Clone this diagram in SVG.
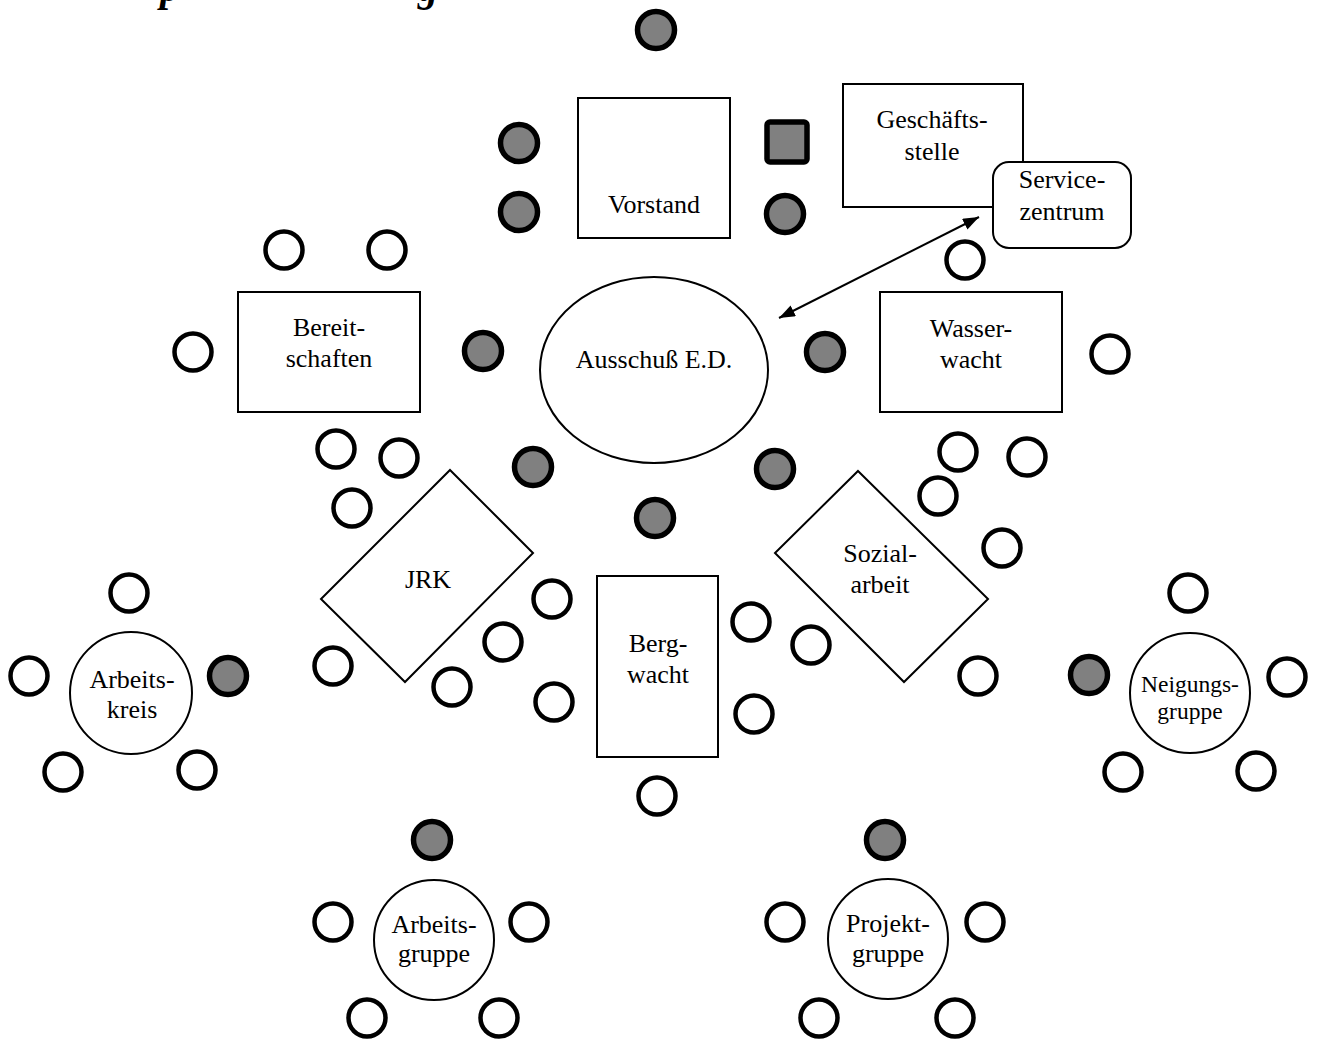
<svg xmlns="http://www.w3.org/2000/svg" width="1318" height="1041" viewBox="0 0 1318 1041">
<style>
text{font-family:"Liberation Serif","Times New Roman",serif;font-size:26px;fill:#000;text-anchor:middle}
.sm{font-size:23.5px}
.ttl{font-weight:bold;font-style:italic;font-size:40px;text-anchor:start}
.box{fill:#fff;stroke:#000;stroke-width:2}
.w{fill:#fff;stroke:#000;stroke-width:4.5}
.g{fill:#808080;stroke:#000;stroke-width:5.5}
.con{stroke:#000;stroke-width:2;fill:none}
</style>
<defs>
<marker id="ah" viewBox="0 0 16 12" refX="16" refY="6" markerWidth="16" markerHeight="12" markerUnits="userSpaceOnUse" orient="auto-start-reverse">
<path d="M0,0 L16,6 L0,12 z" fill="#000"/>
</marker>
</defs>
<rect width="1318" height="1041" fill="#fff"/>
<g id="title"><text class="ttl" x="160" y="1">p</text><text class="ttl" x="418" y="1">g</text></g>

<g id="connectors">
<line class="con" x1="979" y1="217" x2="779" y2="318" marker-start="url(#ah)" marker-end="url(#ah)"/>
</g>

<g id="vorstand"><rect class="box" x="578" y="98" width="152" height="140"/><text x="654" y="213">Vorstand</text></g>
<g id="geschaeftsstelle"><rect class="box" x="843" y="84" width="180" height="123"/><text x="932" y="128">Geschäfts-</text><text x="932" y="160">stelle</text></g>
<g id="servicezentrum"><rect class="box" x="993" y="162" width="138" height="86" rx="16"/><text x="1062" y="188">Service-</text><text x="1062" y="220">zentrum</text></g>
<g id="ausschuss"><ellipse class="box" cx="654" cy="370" rx="114" ry="93"/><text x="654" y="368">Ausschuß E.D.</text></g>
<g id="bereitschaften"><rect class="box" x="238" y="292" width="182" height="120"/><text x="329" y="336">Bereit-</text><text x="329" y="367">schaften</text></g>
<g id="wasserwacht"><rect class="box" x="880" y="292" width="182" height="120"/><text x="971" y="337">Wasser-</text><text x="971" y="368">wacht</text></g>
<g id="jrk"><polygon class="box" points="450,470 533,553 405,682 321,599"/><text x="428" y="588">JRK</text></g>
<g id="bergwacht"><rect class="box" x="597" y="576" width="121" height="181"/><text x="658" y="652">Berg-</text><text x="658" y="683">wacht</text></g>
<g id="sozialarbeit"><polygon class="box" points="858,471 988,599 904,682 775,553"/><text x="880" y="562">Sozial-</text><text x="880" y="593">arbeit</text></g>
<g id="arbeitskreis"><circle class="box" cx="131" cy="693" r="61"/><text x="132" y="688">Arbeits-</text><text x="132" y="718">kreis</text></g>
<g id="neigungsgruppe"><circle class="box" cx="1190" cy="693" r="60"/><text class="sm" x="1190" y="692">Neigungs-</text><text class="sm" x="1190" y="719">gruppe</text></g>
<g id="arbeitsgruppe"><circle class="box" cx="434" cy="940" r="60"/><text x="434" y="933">Arbeits-</text><text x="434" y="962">gruppe</text></g>
<g id="projektgruppe"><circle class="box" cx="888" cy="939" r="60"/><text x="888" y="932">Projekt-</text><text x="888" y="962">gruppe</text></g>

<g id="seats-gray">
<circle class="g" cx="656" cy="30" r="18.5"/>
<circle class="g" cx="519" cy="143" r="18.5"/>
<circle class="g" cx="519" cy="212" r="18.5"/>
<rect class="g" x="767" y="122" width="40" height="40" rx="3"/>
<circle class="g" cx="785" cy="214" r="18.5"/>
<circle class="g" cx="483" cy="351" r="18.5"/>
<circle class="g" cx="825" cy="352" r="18.5"/>
<circle class="g" cx="533" cy="467" r="18.5"/>
<circle class="g" cx="775" cy="469" r="18.5"/>
<circle class="g" cx="655" cy="518" r="18.5"/>
<circle class="g" cx="228" cy="676" r="18.5"/>
<circle class="g" cx="1089" cy="675" r="18.5"/>
<circle class="g" cx="432" cy="840" r="18.5"/>
<circle class="g" cx="885" cy="840" r="18.5"/>
</g>

<g id="seats-white">
<circle class="w" cx="965" cy="260" r="18.5"/>
<circle class="w" cx="284" cy="250" r="18.5"/>
<circle class="w" cx="387" cy="250" r="18.5"/>
<circle class="w" cx="193" cy="352" r="18.5"/>
<circle class="w" cx="1110" cy="354" r="18.5"/>
<circle class="w" cx="336" cy="449" r="18.5"/>
<circle class="w" cx="399" cy="458" r="18.5"/>
<circle class="w" cx="352" cy="508" r="18.5"/>
<circle class="w" cx="552" cy="599" r="18.5"/>
<circle class="w" cx="503" cy="642" r="18.5"/>
<circle class="w" cx="452" cy="687" r="18.5"/>
<circle class="w" cx="333" cy="666" r="18.5"/>
<circle class="w" cx="554" cy="702" r="18.5"/>
<circle class="w" cx="751" cy="622" r="18.5"/>
<circle class="w" cx="754" cy="714" r="18.5"/>
<circle class="w" cx="657" cy="796" r="18.5"/>
<circle class="w" cx="958" cy="452" r="18.5"/>
<circle class="w" cx="1027" cy="457" r="18.5"/>
<circle class="w" cx="938" cy="496" r="18.5"/>
<circle class="w" cx="1002" cy="548" r="18.5"/>
<circle class="w" cx="811" cy="645" r="18.5"/>
<circle class="w" cx="978" cy="676" r="18.5"/>
<circle class="w" cx="129" cy="593" r="18.5"/>
<circle class="w" cx="29" cy="676" r="18.5"/>
<circle class="w" cx="63" cy="772" r="18.5"/>
<circle class="w" cx="197" cy="770" r="18.5"/>
<circle class="w" cx="1188" cy="593" r="18.5"/>
<circle class="w" cx="1287" cy="677" r="18.5"/>
<circle class="w" cx="1123" cy="772" r="18.5"/>
<circle class="w" cx="1256" cy="771" r="18.5"/>
<circle class="w" cx="333" cy="922" r="18.5"/>
<circle class="w" cx="529" cy="922" r="18.5"/>
<circle class="w" cx="367" cy="1018" r="18.5"/>
<circle class="w" cx="499" cy="1018" r="18.5"/>
<circle class="w" cx="785" cy="922" r="18.5"/>
<circle class="w" cx="985" cy="922" r="18.5"/>
<circle class="w" cx="819" cy="1018" r="18.5"/>
<circle class="w" cx="955" cy="1018" r="18.5"/>
</g>
</svg>
